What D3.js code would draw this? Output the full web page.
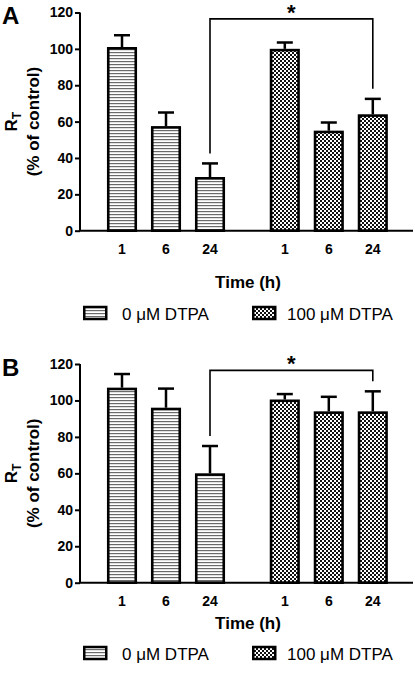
<!DOCTYPE html>
<html>
<head>
<meta charset="utf-8">
<script src="https://cdn.jsdelivr.net/npm/d3@7"></script>
<style>
  html, body { margin: 0; padding: 0; background: #fff; }
  svg { display: block; font-family: "Liberation Sans", Arial, Helvetica, sans-serif; }
</style>
</head>
<body>
<svg id="chart" width="415" height="677"></svg>
<script>
// ---- data ----
const times = ["1", "6", "24"];
const groups = ["0 \u03BCM DTPA", "100 \u03BCM DTPA"];
const yTicks = [0, 20, 40, 60, 80, 100, 120];
const panelLabels = ["A", "B"];

const aMean0 = [101, 57.5, 29.5];
const aErr0 = [6.5, 7.5, 7.5];
const aMean100 = [100, 55, 64];
const aErr100 = [3.5, 4.5, 8.5];

const bMean0 = [107, 96, 60];
const bErr0 = [7.5, 10.5, 15];
const bMean100 = [100.5, 94, 94];
const bErr100 = [3, 8, 11];

// ---- layout ----
const svg = d3.select("#chart");
const FONT = "'Liberation Sans', Arial, Helvetica, sans-serif";

const defs = svg.append("defs");
const hp = defs.append("pattern").attr("id", "hstripe").attr("patternUnits", "userSpaceOnUse")
  .attr("width", 6).attr("height", 3);
hp.append("rect").attr("width", 6).attr("height", 3).attr("fill", "#fff");
hp.append("rect").attr("y", 1).attr("width", 6).attr("height", 1.2).attr("fill", "#6a6a6a");

const cp = defs.append("pattern").attr("id", "checker").attr("patternUnits", "userSpaceOnUse")
  .attr("width", 4).attr("height", 4);
cp.append("rect").attr("width", 4).attr("height", 4).attr("fill", "#fff");
cp.append("rect").attr("width", 2).attr("height", 2).attr("fill", "#111");
cp.append("rect").attr("x", 2).attr("y", 2).attr("width", 2).attr("height", 2).attr("fill", "#111");

const fills = ["url(#hstripe)", "url(#checker)"];

// bar positions in slot units: group 0 at 0,1,2 ; group 1 offset by 3.7
const groupOffset = [0, 3.7];
const x = d3.scaleLinear().domain([0, 5.7]).range([122, 372.8]);
const barW = 30;
const axisLeft = 80, axisRight = 413;

const panels = [
  { label: panelLabels[0], top: 12.5, bottom: 230.7, means: [aMean0, aMean100], errs: [aErr0, aErr100], titleOff: 57.3, legOff: 89.3 },
  { label: panelLabels[1], top: 364, bottom: 582.7, means: [bMean0, bMean100], errs: [bErr0, bErr100], titleOff: 46.3, legOff: 77.3 }
];

panels.forEach(p => {
  const y = d3.scaleLinear().domain([0, 120]).range([p.bottom, p.top]);
  const g = svg.append("g");

  // bars and error bars
  groups.forEach((grp, gi) => {
    times.forEach((t, ti) => {
      const cx = x(groupOffset[gi] + ti);
      const m = p.means[gi][ti], e = p.errs[gi][ti];
      g.append("line").attr("x1", cx).attr("x2", cx).attr("y1", y(m)).attr("y2", y(m + e))
        .attr("stroke", "#000").attr("stroke-width", 2.5);
      g.append("line").attr("x1", cx - 8).attr("x2", cx + 8).attr("y1", y(m + e)).attr("y2", y(m + e))
        .attr("stroke", "#000").attr("stroke-width", 2.5);
      g.append("rect").attr("x", cx - barW / 2 + 1.25).attr("y", y(m) + 1.25)
        .attr("width", barW - 2.5).attr("height", y(0) - y(m) - 1.25)
        .attr("fill", fills[gi]).attr("stroke", "#000").attr("stroke-width", 2.6);
    });
  });

  // y axis
  const yAxis = d3.axisLeft(y).tickValues(yTicks).tickSize(5).tickPadding(2).tickSizeOuter(0);
  const ya = g.append("g").attr("transform", `translate(${axisLeft},0)`).call(yAxis);
  ya.select(".domain").attr("stroke-width", 2).attr("d", `M0,${p.bottom}V${p.top}`);
  ya.selectAll(".tick line").attr("stroke-width", 2);
  ya.selectAll(".tick text").attr("font-family", FONT).attr("font-size", 14).attr("font-weight", "bold").attr("fill", "#000");

  // x axis line
  g.append("line").attr("x1", axisLeft - 1).attr("x2", axisRight).attr("y1", p.bottom).attr("y2", p.bottom)
    .attr("stroke", "#000").attr("stroke-width", 2);

  // x tick labels
  groups.forEach((grp, gi) => {
    times.forEach((t, ti) => {
      g.append("text").attr("x", x(groupOffset[gi] + ti)).attr("y", p.bottom + 23)
        .attr("text-anchor", "middle").attr("font-size", 14).attr("font-weight", "bold").text(t);
    });
  });

  // x axis title
  g.append("text").attr("x", 248).attr("y", p.bottom + p.titleOff).attr("text-anchor", "middle")
    .attr("font-size", 17).attr("font-weight", "bold").text("Time (h)");

  // y axis title
  const yc = (p.top + p.bottom) / 2;
  const rt = g.append("text").attr("transform", `translate(17,${yc}) rotate(-90)`)
    .attr("text-anchor", "middle").attr("font-size", 17).attr("font-weight", "bold");
  rt.append("tspan").text("R");
  rt.append("tspan").attr("dy", 4).attr("font-size", 12).text("T");
  g.append("text").attr("transform", `translate(39,${yc}) rotate(-90)`)
    .attr("text-anchor", "middle").attr("font-size", 17).attr("font-weight", "bold").text("(% of control)");

  // panel label
  g.append("text").attr("x", 2).attr("y", p.top + 11.5).attr("font-size", 24).attr("font-weight", "bold").text(p.label);

  // significance bracket between 24 h bars
  const xl = x(groupOffset[0] + 2), xr = x(groupOffset[1] + 2);
  const yl = p.means[0][2] + p.errs[0][2] + 5.5;
  const yr = p.means[1][2] + p.errs[1][2] + 5.5;
  const yt = 116.5;
  g.append("path").attr("d", `M${xl},${y(yl)}V${y(yt)}H${xr}V${y(yr)}`)
    .attr("fill", "none").attr("stroke", "#000").attr("stroke-width", 1.6);
  g.append("text").attr("x", (xl + xr) / 2).attr("y", y(yt) + 1).attr("text-anchor", "middle")
    .attr("font-size", 22).attr("font-weight", "bold").text("*");

  // legend
  const ly = p.bottom + p.legOff;
  const legX = [83, 252], legTX = [122, 287];
  groups.forEach((grp, gi) => {
    g.append("rect").attr("x", legX[gi] + 1.25).attr("y", ly - 13).attr("width", 22).attr("height", 12)
      .attr("fill", fills[gi]).attr("stroke", "#000").attr("stroke-width", 2.5);
    g.append("text").attr("x", legTX[gi]).attr("y", ly).attr("font-size", 17).text(grp);
  });
});

svg.selectAll("text").attr("font-family", FONT).attr("fill", "#000");
</script>
</body>
</html>
